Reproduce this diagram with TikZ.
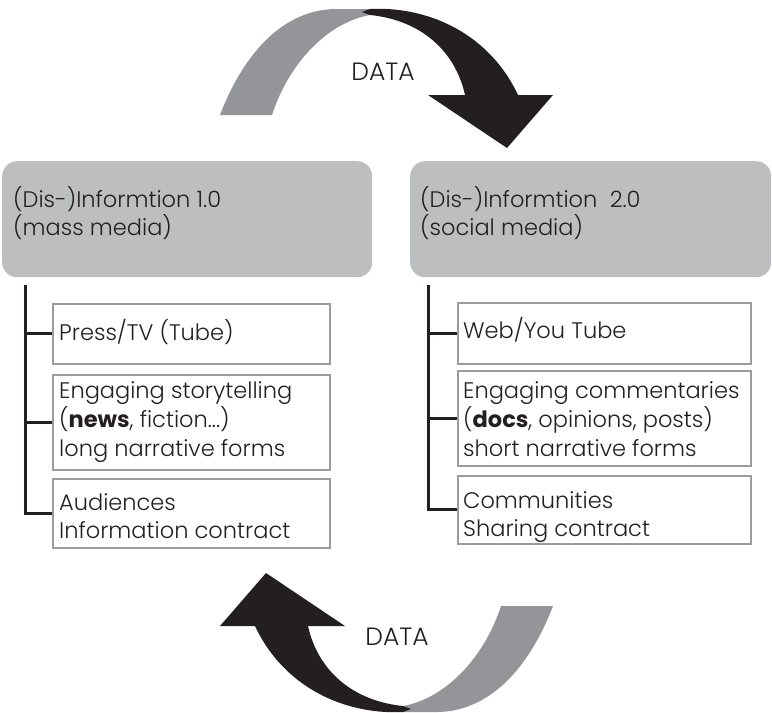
\documentclass[tikz,border=0pt]{standalone}
\usepackage{fontspec}
\setmainfont{Poppins}[UprightFont={* Light},BoldFont={* Bold}]
\definecolor{ribbongray}{HTML}{939598}
\definecolor{ink}{HTML}{231F20}
\definecolor{headgray}{HTML}{BCBEC0}
\definecolor{boxline}{HTML}{9A9C9F}
% stacked lines whose anchor is the baseline of the first line
\newcommand\txtlines[1]{\begin{tabular}[t]{@{}l@{}}#1\end{tabular}}
% curved ribbon arrow: grey tail, black head
\newcommand\dataribbon{%
  \fill[ribbongray] (220,115) .. controls (245,50) and (285,10) .. (335,9)
    -- (370,9) -- (370,15) .. controls (330,22) and (290,60) .. (272,115) -- cycle;
  \fill[ink] (362,12) -- (370,9) .. controls (430,6) and (490,35) .. (518,95)
    -- (553,95) -- (507,148) -- (428,95) -- (465,95)
    .. controls (455,50) and (420,20) .. (370,15) -- cycle;}
\begin{document}
\begin{tikzpicture}[x=1pt,y=-1pt,
  header/.style={fill=headgray,rounded corners=15pt,inner sep=0pt,anchor=north west},
  infobox/.style={draw=boxline,line width=1.5pt,fill=white,inner sep=0pt,
    anchor=north west,minimum width=#1},
  headtext/.style={anchor=base west,inner sep=0pt,text=ink,
    font=\fontsize{22.5}{26}\selectfont},
  boxtext/.style={anchor=base west,inner sep=0pt,text=ink,
    font=\fontsize{22.5}{28.5}\selectfont},
  datatext/.style={inner sep=0pt,text=ink,font=\fontsize{25}{28}\selectfont},
  spine/.style={draw=ink,line width=3pt}]
\useasboundingbox (0,0) rectangle (772,713);

% flow arrows
\dataribbon
\begin{scope}[rotate around={180:(386.5,360.5)}]
  \dataribbon
\end{scope}
\node[datatext] (dtop) at (383,72) {DATA};
\node[datatext] (dbot) at (397,637) {DATA};

% left column: mass media
\node[header,minimum width=370pt,minimum height=116pt] (hL) at (2,161) {};
\node[headtext] (tL) at (13,207) {\txtlines{(Dis-)Informtion 1.0\\(mass media)}};
\node[infobox=277pt,minimum height=60pt] (L1) at (52,303) {};
\node[infobox=277pt,minimum height=95pt] (L2) at (52,374) {};
\node[infobox=277pt,minimum height=69pt] (L3) at (52,478) {};
\node[boxtext] at (59,340) {Press/TV (Tube)};
\node[boxtext] at (59,398) {\txtlines{Engaging storytelling\\(\textbf{news}, fiction...)\\long narrative forms}};
\node[boxtext] at (59,510) {\txtlines{Audiences\\Information contract}};
\coordinate (sL) at (25,285);
\draw[spine] (sL) |- (L3.west);
\draw[spine] (sL |- L1.west) -- (L1.west);
\draw[spine] (sL |- L2.west) -- (L2.west);

% right column: social media
\node[header,minimum width=361pt,minimum height=116pt] (hR) at (410,161) {};
\node[headtext] (tR) at (420,207) {\txtlines{(Dis-)Informtion\ \ 2.0\\(social media)}};
\node[infobox=293pt,minimum height=61pt] (R1) at (457,302) {};
\node[infobox=293pt,minimum height=95pt] (R2) at (457,370) {};
\node[infobox=293pt,minimum height=68pt] (R3) at (457,475) {};
\node[boxtext] at (463,338) {Web/You Tube};
\node[boxtext] at (463,398) {\txtlines{Engaging commentaries\\(\textbf{docs}, opinions, posts)\\short narrative forms}};
\node[boxtext] at (463,508) {\txtlines{Communities\\Sharing contract}};
\coordinate (sR) at (428,285);
\draw[spine] (sR) |- (R3.west);
\draw[spine] (sR |- R1.west) -- (R1.west);
\draw[spine] (sR |- R2.west) -- (R2.west);
\end{tikzpicture}
\end{document}
